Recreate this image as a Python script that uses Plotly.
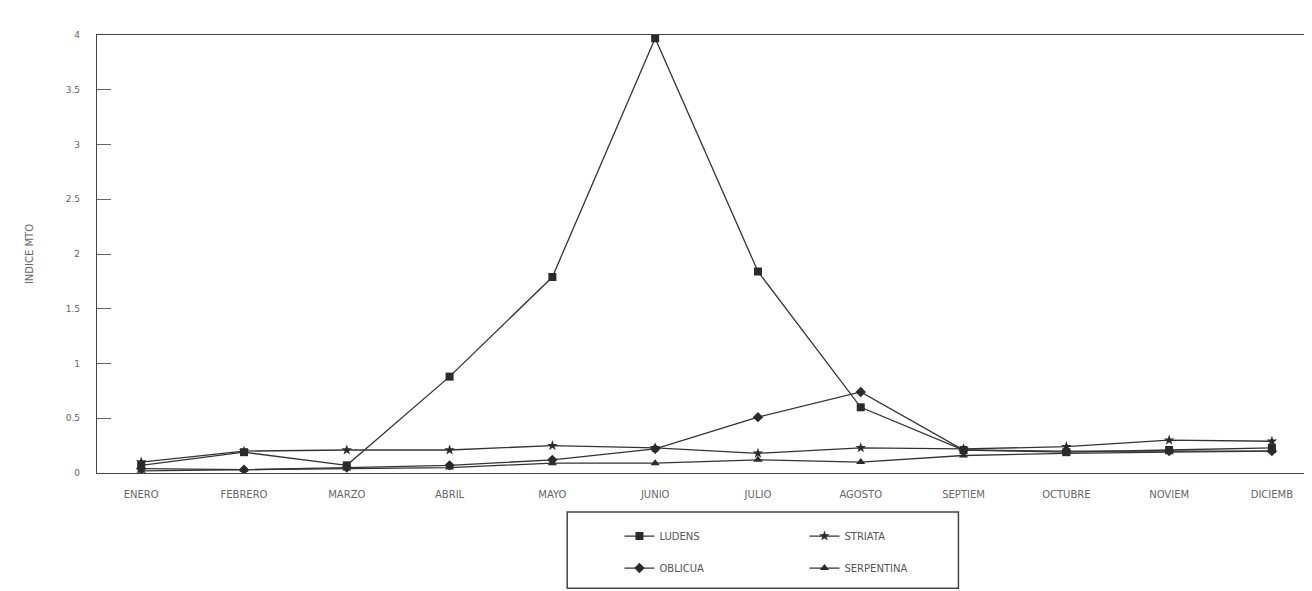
import plotly.graph_objects as go

months = ["ENERO", "FEBRERO", "MARZO", "ABRIL", "MAYO", "JUNIO",
          "JULIO", "AGOSTO", "SEPTIEM", "OCTUBRE", "NOVIEM", "DICIEMB"]
ludens = [0.07, 0.19, 0.07, 0.88, 1.79, 3.97, 1.84, 0.60, 0.21, 0.19, 0.21, 0.23]
striata = [0.10, 0.20, 0.21, 0.21, 0.25, 0.23, 0.18, 0.23, 0.22, 0.24, 0.30, 0.29]
oblicua = [0.04, 0.03, 0.05, 0.07, 0.12, 0.22, 0.51, 0.74, 0.21, 0.20, 0.20, 0.20]
serpentina = [0.02, 0.03, 0.04, 0.05, 0.09, 0.09, 0.12, 0.10, 0.16, 0.18, 0.19, 0.20]
y_ticks = [0, 0.5, 1, 1.5, 2, 2.5, 3, 3.5, 4]
y_ticktext = ["0", "0.5", "1", "1.5", "2", "2.5", "3", "3.5", "4"]

x = list(range(len(months)))
LINE = "#333333"
fig = go.Figure()

series = [
    ("LUDENS", ludens, "square", 8, "legend"),
    ("STRIATA", striata, "star", 8, "legend"),
    ("OBLICUA", oblicua, "diamond", 8, "legend2"),
    ("SERPENTINA", serpentina, "triangle-up", 8, "legend2"),
]
for name, vals, sym, sz, lg in series:
    fig.add_trace(go.Scatter(
        x=x, y=vals, name=name, mode="lines+markers",
        line=dict(color=LINE, width=1.3),
        marker=dict(symbol=sym, size=sz, color="#2a2a2a"),
        legend=lg,
    ))

legend_common = dict(
    orientation="h", xanchor="left", yanchor="middle",
    entrywidth=140, entrywidthmode="pixels",
    font=dict(family="DejaVu Sans", size=10, color="#555555"),
    bgcolor="rgba(0,0,0,0)", itemwidth=30, tracegroupgap=0,
)

fig.update_layout(
    width=1304, height=583,
    margin=dict(l=89, r=0, t=27, b=118),
    paper_bgcolor="white", plot_bgcolor="white",
    font=dict(family="DejaVu Sans", color="#555555"),
    showlegend=True,
    legend=dict(x=0.43, y=-0.144, **legend_common),
    legend2=dict(x=0.43, y=-0.217, **legend_common),
    xaxis=dict(
        range=[-0.43, 11.39], tickvals=x, ticktext=months,
        showgrid=False, zeroline=False, showline=True, mirror=True,
        linecolor="#444444", linewidth=1.2, ticks="",
        ticklabelstandoff=12,
        tickfont=dict(family="DejaVu Sans", size=10, color="#666666"),
    ),
    yaxis=dict(
        range=[0, 4], tickvals=y_ticks, ticktext=y_ticktext,
        showgrid=False, zeroline=False, showline=True,
        linecolor="#444444", linewidth=1.2,
        ticks="inside", ticklen=14, tickcolor="#666666", tickwidth=1,
        ticklabelstandoff=14,
        tickfont=dict(family="DejaVu Sans", size=9, color="#666666"),
        title=dict(text="INDICE MTO", standoff=30,
                   font=dict(family="DejaVu Sans", size=10, color="#666666")),
    ),
    shapes=[dict(type="rect", xref="paper", yref="paper",
                 x0=0.387, x1=0.709, y0=-0.089, y1=-0.263,
                 line=dict(color="#444444", width=1.5))],
)

fig.write_html("out.html")
